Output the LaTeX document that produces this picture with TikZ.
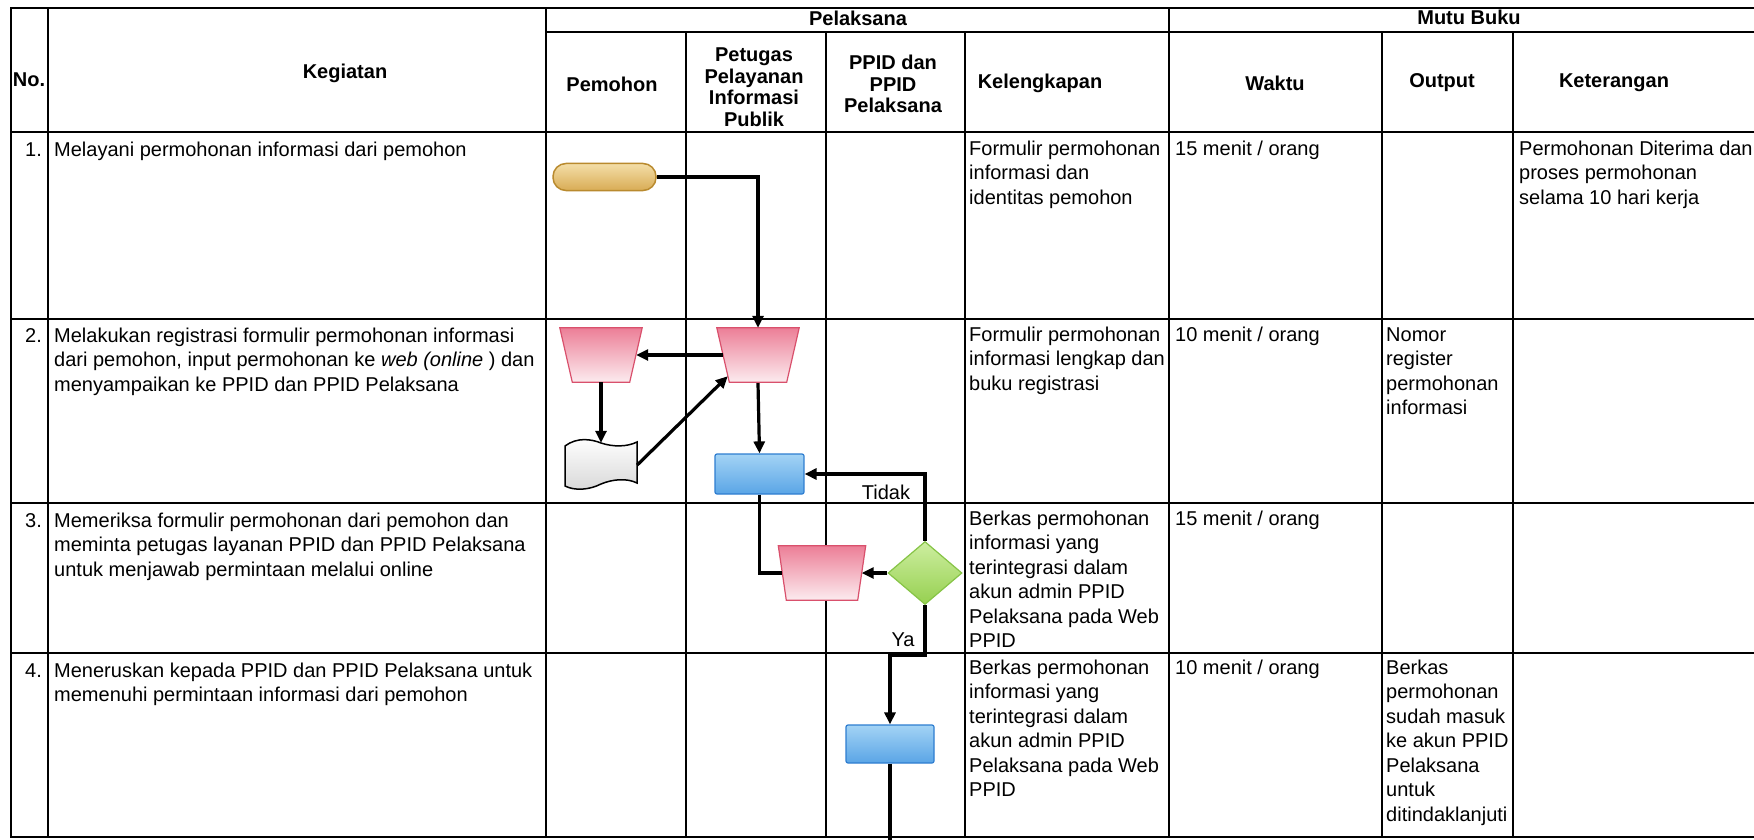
\documentclass[tikz,border=0pt]{standalone}
\usepackage{fontspec}
\setmainfont{Liberation Sans}
\usetikzlibrary{shapes.geometric,arrows.meta,calc}
\definecolor{pinkline}{HTML}{D9506C}
\definecolor{pinktop}{HTML}{EC7F97}
\definecolor{pinkbot}{HTML}{FCEBEF}
\definecolor{blueline}{HTML}{2E7DD0}
\definecolor{bluetop}{HTML}{A3D3F5}
\definecolor{bluebot}{HTML}{5AA5E6}
\definecolor{greenline}{HTML}{86C446}
\definecolor{greentop}{HTML}{CDEEA0}
\definecolor{greenbot}{HTML}{96D050}
\definecolor{orline}{HTML}{B98A2E}
\definecolor{ortop}{HTML}{F4DEA8}
\definecolor{orbot}{HTML}{D9AC55}
\definecolor{docbot}{HTML}{D8D8D8}
\begin{document}
\begin{tikzpicture}[x=1pt,y=-1pt,
  gridline/.style={line width=2.2pt, black},
  hd/.style={font=\bfseries\fontsize{20}{21.5}\selectfont, align=center, inner sep=0pt},
  txt/.style={font=\fontsize{20}{24.5}\selectfont, align=left, anchor=north west, inner sep=0pt},
  lbl/.style={font=\fontsize{20}{24}\selectfont, inner sep=0pt},
  conn/.style={line width=3.2pt, black},
  arr/.style={conn, -{Triangle[length=12pt,width=11pt]}},
  manualbox/.style={rectangle, minimum width=82pt, minimum height=54pt, inner sep=0pt},
  manualfill/.style={draw=pinkline, line width=1.2pt, top color=pinktop, bottom color=pinkbot},
  proc/.style={rectangle, rounded corners=2pt, minimum width=89pt, minimum height=40pt, draw=blueline, line width=1.2pt, top color=bluetop, bottom color=bluebot},
  decis/.style={diamond, minimum width=74pt, minimum height=63pt, inner sep=0pt, draw=greenline, line width=1.2pt, top color=greentop, bottom color=greenbot},
  termin/.style={rectangle, rounded corners=13pt, minimum width=103pt, minimum height=27pt, draw=orline, line width=1.5pt, top color=ortop, bottom color=orbot},
]
\useasboundingbox (0,0) rectangle (1754,840);
\fill[white] (0,0) rectangle (1754,840);

% ---- table grid ----
\draw[gridline] (10,8) -- (1754,8);
\draw[gridline] (546,32) -- (1754,32);
\foreach \yy in {132,319,503,653,837} \draw[gridline] (10,\yy) -- (1754,\yy);
\foreach \xx in {11,48,546,1169} \draw[gridline] (\xx,8) -- (\xx,837);
\foreach \xx in {686,826,965,1382,1513} \draw[gridline] (\xx,32) -- (\xx,837);

% ---- headers ----
\node[hd] (hno) at (29,80) {No.};
\node[hd] (hkeg) at (345,73) {Kegiatan};
\node[hd] (hpel) at (858,18) {Pelaksana};
\node[hd] (hmutu) at (1469,17) {Mutu Buku};
\node[hd] (hpem) at (612,84) {Pemohon};
\node[hd] (hpet) at (754,87) {Petugas\\Pelayanan\\Informasi\\Publik};
\node[hd] (hppid) at (893,84) {PPID dan\\PPID\\Pelaksana};
\node[hd] (hkel) at (1040,83) {Kelengkapan};
\node[hd] (hwak) at (1275,83) {Waktu};
\node[hd] (hout) at (1442,83) {Output};
\node[hd] (hket) at (1614,83) {Keterangan};

% ---- numbers ----
\node[txt] (n1) at (25,139) {\strut 1.};
\node[txt] (n2) at (25,325) {\strut 2.};
\node[txt] (n3) at (25,510) {\strut 3.};
\node[txt] (n4) at (25,660) {\strut 4.};

% ---- kegiatan ----
\node[txt] (k1) at (54,139) {\strut Melayani permohonan informasi dari pemohon};
\node[txt] (k2) at (54,325) {\strut Melakukan registrasi formulir permohonan informasi\\dari pemohon, input permohonan ke \textit{web (online} ) dan\\menyampaikan ke PPID dan PPID Pelaksana};
\node[txt] (k3) at (54,510) {\strut Memeriksa formulir permohonan dari pemohon dan\\meminta petugas layanan PPID dan PPID Pelaksana\\untuk menjawab permintaan melalui online};
\node[txt] (k4) at (54,660) {\strut Meneruskan kepada PPID dan PPID Pelaksana untuk\\memenuhi permintaan informasi dari pemohon};

% ---- kelengkapan ----
\node[txt] (l1) at (969,138) {\strut Formulir permohonan\\informasi dan\\identitas pemohon};
\node[txt] (l2) at (969,324) {\strut Formulir permohonan\\informasi lengkap dan\\buku registrasi};
\node[txt] (l3) at (969,508) {\strut Berkas permohonan\\informasi yang\\terintegrasi dalam\\akun admin PPID\\Pelaksana pada Web\\PPID};
\node[txt] (l4) at (969,657) {\strut Berkas permohonan\\informasi yang\\terintegrasi dalam\\akun admin PPID\\Pelaksana pada Web\\PPID};

% ---- waktu ----
\node[txt] (w1) at (1175,138) {\strut 15 menit / orang};
\node[txt] (w2) at (1175,324) {\strut 10 menit / orang};
\node[txt] (w3) at (1175,508) {\strut 15 menit / orang};
\node[txt] (w4) at (1175,657) {\strut 10 menit / orang};

% ---- output ----
\node[txt] (o2) at (1386,324) {\strut Nomor\\register\\permohonan\\informasi};
\node[txt] (o4) at (1386,657) {\strut Berkas\\permohonan\\sudah masuk\\ke akun PPID\\Pelaksana\\untuk\\ditindaklanjuti};

% ---- keterangan ----
\node[txt] (ket1) at (1519,138) {\strut Permohonan Diterima dan\\proses permohonan\\selama 10 hari kerja};

% ---- flowchart shapes ----
\node[termin] (term) at (604.5,177) {};
\node[manualbox] (A) at (601,355) {};
\path[manualfill] (A.north west) -- (A.north east) -- ($(A.south east)+(-12.5,0)$) -- ($(A.south west)+(12.5,0)$) -- cycle;
\node[manualbox] (B) at (758,355) {};
\path[manualfill] (B.north west) -- (B.north east) -- ($(B.south east)+(-12.5,0)$) -- ($(B.south west)+(12.5,0)$) -- cycle;
\node[manualbox, minimum width=87pt] (C) at (822,573) {};
\path[manualfill] (C.north west) -- (C.north east) -- ($(C.south east)+(-8,0)$) -- ($(C.south west)+(8,0)$) -- cycle;
\node[proc] (R1) at (759.5,474) {};
\node[proc, minimum width=88pt, minimum height=38pt] (R2) at (890,744) {};
\node[decis] (D) at (925,573) {};
\node[minimum width=72pt, minimum height=44pt, inner sep=0pt] (doc) at (601,465) {};
\begin{scope}[shift={(doc.center)}]
\path[draw=black, line width=1.5pt, top color=white, bottom color=docbot]
  (-36,-19) .. controls (-24,-28) and (-10,-26) .. (0,-22)
  .. controls (12,-18) and (26,-18) .. (36,-23)
  -- (36,18)
  .. controls (26,13) and (12,14) .. (0,19)
  .. controls (-12,25) and (-26,26) .. (-36,21) -- cycle;
\end{scope}

% ---- connectors ----
\draw[arr] (term.east) -| (B.north);
\draw[arr] ($(B.west)+(6,0)$) -- ($(A.east)+(-6,0)$);
\draw[arr] (A.south) -- (doc.north);
\draw[arr] (doc.east) -- ($(B.south west)+(11,-6)$);
\draw[arr] ($(B.south)+(0,1)$) -- (R1.north);
\draw[conn] (R1.south) |- ($(C.west)+(4,0)$);
\draw[arr] (D.west) -- ($(C.east)+(-4,0)$);
\draw[arr] (D.north) |- (R1.east);
\node[lbl] (tidak) at (886,492) {Tidak};
\coordinate (yab) at (925,655);
\draw[arr] (D.south) -- (yab) -| (R2.north);
\node[lbl] (ya) at (903,640) {Ya};
\coordinate (rend) at (890,840);
\draw[conn] (R2.south) -- (rend);
\end{tikzpicture}
\end{document}
